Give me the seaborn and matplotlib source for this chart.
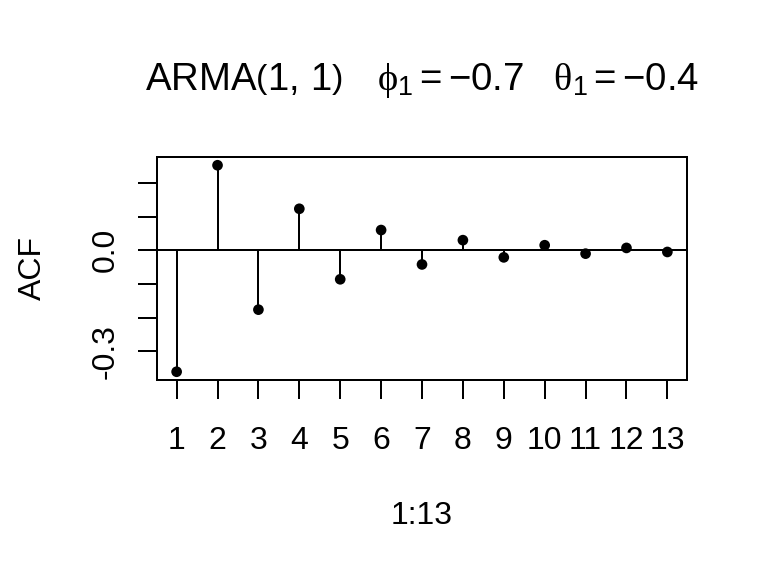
import seaborn as sns
import matplotlib.pyplot as plt
import pandas as pd

# ACF values (lags 1..13)
lags = list(range(1, 14))
acf_vals = [-0.360, 0.252, -0.176, 0.123, -0.086, 0.060, -0.042,
            0.030, -0.021, 0.015, -0.010, 0.007, -0.005]
y_ticks = [-0.3, -0.2, -0.1, 0.0, 0.1, 0.2]
y_tick_labels = ['-0.3', '', '', '0.0', '', '']
title = (r'$\mathrm{ARMA}\left(1,\,1\right)\quad\,\phi_1 = -0.7'
         r'\quad\theta_1 = -0.4$')

sns.set_theme(style='ticks')
plt.rcParams['font.family'] = ['Liberation Sans', 'DejaVu Sans']
plt.rcParams['mathtext.fontset'] = 'custom'
plt.rcParams['mathtext.rm'] = 'Liberation Sans'
plt.rcParams['mathtext.it'] = 'Liberation Serif'
plt.rcParams['mathtext.bf'] = 'Liberation Sans:bold'
for k in ['text.color', 'axes.labelcolor', 'xtick.color', 'ytick.color', 'axes.edgecolor']:
    plt.rcParams[k] = 'black'

df = pd.DataFrame({'lag': lags, 'acf': acf_vals})

# R-like 4x3 inch device at 192 dpi -> 768x576
fig = plt.figure(figsize=(4, 3), dpi=192)
ax = fig.add_axes([157 / 768, 1 - 380 / 576, (687 - 157) / 768, (380 - 157) / 576])

ax.axhline(0, color='black', lw=0.75, zorder=1)
ax.vlines(df['lag'], 0, df['acf'], color='black', lw=0.75, zorder=2)
sns.scatterplot(data=df, x='lag', y='acf', color='black', s=16,
                edgecolor='none', ax=ax, zorder=3, legend=False)

ax.margins(x=0.04, y=0.04)
ax.set_xticks(lags)
ax.set_xticklabels([str(l) for l in lags], fontsize=12)
ax.set_yticks(y_ticks)
ax.set_yticklabels(y_tick_labels, fontsize=12, rotation=90, va='center')

for s in ax.spines.values():
    s.set_visible(True)
    s.set_linewidth(0.75)
    s.set_color('black')
ax.tick_params(axis='both', direction='out', length=7.2, width=0.75, color='black')
ax.tick_params(axis='x', pad=10)
ax.tick_params(axis='y', pad=6.5)

ax.set_xlabel('1:13', fontsize=12, labelpad=17)
ax.set_ylabel('ACF', fontsize=12, labelpad=16)

fig.text((157 + 687) / 2 / 768, 1 - 90 / 576, title, fontsize=14.4,
         ha='center', va='baseline')

fig.savefig('out.png', dpi=192)
